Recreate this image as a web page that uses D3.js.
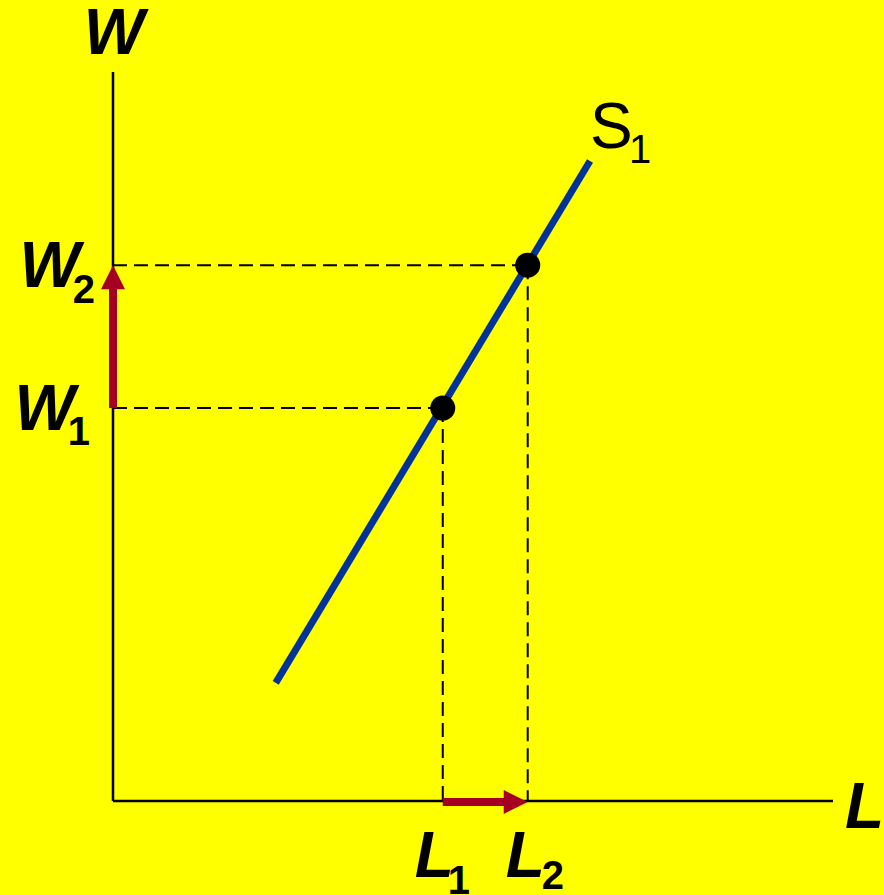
<!DOCTYPE html>
<html>
<head>
  <meta charset="utf-8" />
  <title>Labour supply: W and L</title>
  <script src="https://cdn.jsdelivr.net/npm/d3@7"></script>
  <style>
    html, body { margin: 0; padding: 0; background: #ffff00; }
    svg { display: block; }
    text { font-family: "Liberation Sans", Arial, sans-serif; fill: #000; }
    .big { font-size: 64px; font-weight: bold; font-style: italic; }
    .sub { font-size: 40px; font-weight: bold; }
  </style>
</head>
<body>
  <svg id="chart"></svg>
  <script>
    // supply curve S1, end points (L, W)
    const supplyL = [22.6, 66.25];
    const supplyW = [16.2, 87.8];
    // the two equilibrium points
    const pointL = [45.8, 57.6];
    const pointW = [53.9, 73.5];
    const pointNames = ["1", "2"];

    const width = 884, height = 895;
    const svg = d3.select("#chart").attr("width", width).attr("height", height);

    svg.append("rect").attr("width", width).attr("height", height).attr("fill", "#ffff00");

    const x = d3.scaleLinear().domain([0, 100]).range([113, 833]);
    const y = d3.scaleLinear().domain([0, 100]).range([801, 72]);

    const red = "#a50021";

    // dashed guide lines
    const g = svg.append("g");
    pointL.forEach((l, i) => {
      const w = pointW[i];
      g.append("line")
        .attr("x1", x(0)).attr("x2", x(l))
        .attr("y1", y(w)).attr("y2", y(w))
        .attr("stroke", "#000").attr("stroke-width", 2).attr("stroke-dasharray", "14,7");
      g.append("line")
        .attr("x1", x(l)).attr("x2", x(l))
        .attr("y1", y(w)).attr("y2", y(0))
        .attr("stroke", "#000").attr("stroke-width", 2).attr("stroke-dasharray", "14,7");
    });

    // axes (plain lines, no ticks)
    svg.append("line")
      .attr("x1", x(0)).attr("x2", x(0)).attr("y1", y(100)).attr("y2", y(0))
      .attr("stroke", "#000").attr("stroke-width", 2.5);
    svg.append("line")
      .attr("x1", x(0)).attr("x2", x(100)).attr("y1", y(0)).attr("y2", y(0))
      .attr("stroke", "#000").attr("stroke-width", 2.5);

    // arrows: up the W axis, along the L axis
    const shaft = 8, head = 24, headW = 24;
    // vertical
    {
      const cx = x(0), y0 = y(pointW[0]), y1 = y(pointW[1]);
      svg.append("rect")
        .attr("x", cx - shaft / 2).attr("y", y1 + head - 1)
        .attr("width", shaft).attr("height", y0 - y1 - head + 1)
        .attr("fill", red);
      svg.append("path")
        .attr("d", `M${cx},${y1} L${cx - headW / 2},${y1 + head} L${cx + headW / 2},${y1 + head} Z`)
        .attr("fill", red);
    }
    // horizontal
    {
      const cy = y(0) + 1, x0 = x(pointL[0]), x1 = x(pointL[1]);
      svg.append("rect")
        .attr("x", x0).attr("y", cy - shaft / 2)
        .attr("width", x1 - x0 - head + 1).attr("height", shaft)
        .attr("fill", red);
      svg.append("path")
        .attr("d", `M${x1},${cy} L${x1 - head},${cy - headW / 2} L${x1 - head},${cy + headW / 2} Z`)
        .attr("fill", red);
    }

    // supply curve
    svg.append("line")
      .attr("x1", x(supplyL[0])).attr("y1", y(supplyW[0]))
      .attr("x2", x(supplyL[1])).attr("y2", y(supplyW[1]))
      .attr("stroke", "#003399").attr("stroke-width", 7);

    // points
    svg.selectAll(".pt")
      .data(pointL)
      .enter()
      .append("circle")
      .attr("class", "pt")
      .attr("cx", d => x(d))
      .attr("cy", (d, i) => y(pointW[i]))
      .attr("r", 12.5)
      .attr("fill", "#000");

    // axis titles
    svg.append("text").attr("class", "big")
      .attr("x", x(0) + 1).attr("y", 54).attr("text-anchor", "middle").text("W");
    svg.append("text").attr("class", "big")
      .attr("x", x(100) + 12).attr("y", y(0) + 27).text("L");

    // W1, W2 labels
    const wOff = [{ w: -38, s: -23, sy: 37 }, { w: -33, s: -18, sy: 38 }];
    pointW.forEach((w, i) => {
      svg.append("text").attr("class", "big")
        .attr("x", x(0) + wOff[i].w).attr("y", y(w) + 22)
        .attr("text-anchor", "end").text("W");
      svg.append("text").attr("class", "sub")
        .attr("x", x(0) + wOff[i].s).attr("y", y(w) + wOff[i].sy)
        .attr("text-anchor", "end").text(pointNames[i]);
    });

    // L1, L2 labels
    const lOff = [{ l: -28, s: 5, sy: 93 }, { l: -22, s: 14, sy: 88 }];
    pointL.forEach((l, i) => {
      svg.append("text").attr("class", "big")
        .attr("x", x(l) + lOff[i].l).attr("y", y(0) + 76).text("L");
      svg.append("text").attr("class", "sub")
        .attr("x", x(l) + lOff[i].s).attr("y", y(0) + lOff[i].sy).text(pointNames[i]);
    });

    // S1 label
    const sx = x(supplyL[1]), sy = y(supplyW[1]);
    svg.append("text")
      .attr("x", sx).attr("y", sy - 13)
      .style("font-size", "64px").text("S");
    svg.append("text")
      .attr("x", sx + 39).attr("y", sy + 2)
      .style("font-size", "40px").text("1");
  </script>
</body>
</html>
